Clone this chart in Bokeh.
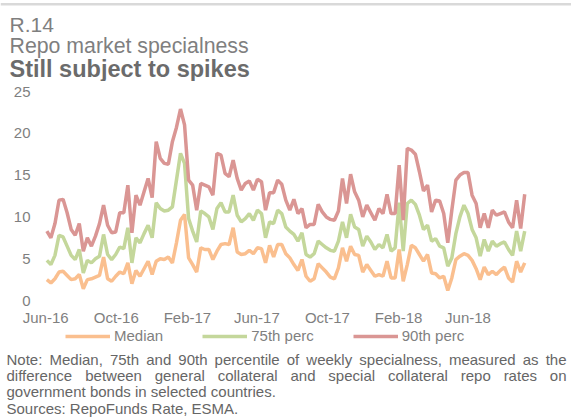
import pandas as pd
from bokeh.plotting import figure
from bokeh.layouts import column
from bokeh.models import (Range1d, FixedTicker, DatetimeTickFormatter, Label,
                          Legend, LegendItem, ColumnDataSource, BoxAnnotation)
from bokeh.embed import file_html
from bokeh.resources import INLINE

# ---------------- data (weekly) ----------------
first_week = "2016-06-03"
median = [
    2.5, 2.1, 2.6, 3.4, 3.5, 3.0, 2.5, 2.6, 3.1, 1.4,
    2.5, 2.6, 2.8, 3.0, 5.2, 2.6, 2.3, 2.9, 3.4, 3.2,
    4.5, 2.0, 3.6, 2.9, 3.8, 4.7, 3.1, 4.7, 5.0, 4.9,
    5.2, 4.5, 6.9, 9.6, 10.3, 5.1, 4.3, 3.4, 6.3, 6.1,
    6.1, 4.9, 5.9, 6.7, 6.8, 6.7, 8.7, 5.8, 5.5, 5.6,
    6.0, 5.6, 6.3, 6.2, 4.5, 6.6, 5.2, 6.7, 6.7, 5.6,
    5.1, 4.3, 3.6, 4.9, 2.9, 2.3, 2.6, 4.4, 3.9, 3.4,
    2.8, 2.6, 3.9, 6.3, 4.7, 6.5, 5.5, 5.4, 3.4, 4.3,
    3.6, 2.9, 3.1, 2.9, 4.7, 2.7, 2.7, 6.1, 2.3, 4.3,
    6.6, 6.3, 5.5, 4.7, 5.5, 3.3, 3.2, 2.7, 2.9, 1.2,
    2.7, 4.9, 5.3, 5.6, 5.4, 4.8, 3.8, 2.5, 4.0, 3.1,
    3.5, 3.1, 3.6, 4.0, 2.7, 2.2, 4.7, 3.4, 4.5]
p75 = [
    4.8, 4.3, 5.4, 7.8, 7.6, 6.5, 5.4, 4.9, 6.1, 3.3,
    4.8, 4.5, 5.0, 5.3, 7.9, 5.5, 4.9, 5.5, 6.4, 6.2,
    8.7, 4.5, 7.5, 6.9, 8.0, 9.0, 7.5, 11.7, 11.0, 10.7,
    10.8, 11.2, 14.4, 17.6, 16.4, 9.8, 8.3, 7.0, 10.7, 10.4,
    10.0, 8.5, 11.0, 11.7, 10.6, 10.6, 12.6, 10.2, 9.4, 9.8,
    10.4, 9.6, 10.8, 10.4, 7.5, 9.4, 9.2, 10.8, 10.4, 8.8,
    8.3, 7.9, 7.1, 8.1, 5.5, 5.2, 5.6, 7.1, 6.7, 6.3,
    6.0, 5.9, 7.1, 9.4, 7.5, 10.3, 8.8, 8.5, 6.5, 7.7,
    7.0, 6.1, 6.7, 6.3, 7.9, 5.9, 6.3, 11.7, 5.9, 11.6,
    12.0, 11.5, 10.2, 8.5, 9.0, 7.1, 7.4, 6.5, 6.3, 4.1,
    5.1, 8.0, 10.0, 11.4, 10.4, 8.5, 7.5, 5.3, 7.3, 5.9,
    7.1, 6.5, 6.8, 7.0, 6.1, 5.4, 8.3, 5.9, 8.3]
p90 = [
    8.3, 7.5, 9.2, 12.0, 12.1, 10.5, 8.5, 7.8, 9.2, 5.9,
    7.5, 6.5, 7.7, 9.2, 11.4, 9.0, 8.1, 8.2, 10.5, 10.5,
    13.8, 8.1, 12.6, 11.4, 13.0, 14.6, 12.3, 19.0, 17.0, 16.4,
    16.3, 19.0, 20.7, 22.9, 21.0, 14.4, 13.8, 10.8, 14.0, 13.8,
    13.6, 12.6, 17.6, 17.4, 15.2, 14.8, 16.8, 14.6, 13.2, 14.0,
    14.3, 13.2, 14.5, 14.2, 10.8, 12.9, 12.9, 14.4, 13.9, 12.0,
    10.8, 12.1, 10.4, 11.0, 8.7, 9.1, 9.1, 11.5, 10.6, 10.0,
    9.7, 9.6, 10.7, 14.6, 11.6, 15.1, 13.0, 12.0, 10.0, 11.4,
    10.5, 9.6, 11.0, 10.4, 12.7, 10.4, 10.4, 16.2, 9.6, 18.2,
    18.0, 17.5, 15.4, 13.1, 13.8, 10.6, 12.0, 11.9, 10.4, 6.9,
    10.8, 14.4, 15.0, 15.3, 15.3, 12.6, 11.6, 8.7, 10.4, 8.7,
    10.8, 10.2, 10.4, 10.6, 9.4, 8.7, 12.0, 8.6, 12.7]
series_names = ["Median", "75th perc", "90th perc"]
tick_dates = ["2016-06-01", "2016-10-01", "2017-02-01", "2017-06-01",
              "2017-10-01", "2018-02-01", "2018-06-01"]
y_ticks = [0, 5, 10, 15, 20, 25]

title_lines = ["R.14", "Repo market specialness", "Still subject to spikes"]
note_lines = [
    "Note: Median, 75th and 90th percentile of weekly specialness, measured as the",
    "difference between general collateral and special collateral repo rates on",
    "government bonds in selected countries.",
    "Sources: RepoFunds Rate, ESMA.",
]

# ---------------- styles / layout ----------------
FONT = "Liberation Sans"
COLORS = ["#FABF8F", "#C4D79B", "#DA9694"]
LW = 3.5
TXT = "#7f7f7f"
NOTE = "#666666"
W = 571
H0, H1, H2 = 81, 247, 89              # header strip / chart / legend+notes strip
FL, FR, FT, FB = 40, 530, 10, 220     # frame edges of the chart (its own canvas px)

dates = pd.date_range(first_week, periods=len(median), freq="7D")
src = ColumnDataSource(dict(d=dates, med=median, p75=p75, p90=p90))
cols = ["med", "p75", "p90"]


def strip(height):
    f = figure(width=W, height=height, output_backend="svg", toolbar_location=None,
               x_range=Range1d(0, 1), y_range=Range1d(0, 1),
               x_axis_location=None, y_axis_location=None,
               min_border_left=0, min_border_right=0, min_border_top=0,
               min_border_bottom=0)
    f.frame_align = False
    f.outline_line_color = None
    f.xgrid.visible = False
    f.ygrid.visible = False
    f.background_fill_color = "white"
    f.border_fill_color = "white"
    return f


def lab(fig, h, x, y, text, size, color, style="normal"):
    # x, y: px in a full-frame strip (y from its top, text baseline)
    fig.add_layout(Label(x=x, y=h - y, x_units="screen", y_units="screen",
                         text=text, text_font=FONT, text_font_size=size,
                         text_font_style=style, text_color=color,
                         text_baseline="alphabetic"))


# ---------------- header ----------------
hd = strip(H0)
hd.add_layout(BoxAnnotation(left=0, right=W, bottom=H0 - 5, top=H0 - 2.5,
                            left_units="screen", right_units="screen",
                            bottom_units="screen", top_units="screen",
                            fill_color="#d9d9d9", fill_alpha=1, line_color=None))
lab(hd, H0, 9, 24, title_lines[0], "21px", TXT)
lab(hd, H0, 9, 45, title_lines[1], "21.3px", TXT)
lab(hd, H0, 9, 68, title_lines[2], "23.5px", "#6b6b6b", "bold")

# ---------------- chart ----------------
p = figure(width=W, height=H1, output_backend="svg", toolbar_location=None,
           x_axis_type="datetime",
           x_range=Range1d(pd.Timestamp("2016-05-23"), pd.Timestamp("2018-09-17")),
           y_range=Range1d(0, 25),
           min_border_left=FL, min_border_right=W - FR,
           min_border_top=FT, min_border_bottom=H1 - FB)
p.frame_align = False
p.outline_line_color = None
p.xgrid.visible = False
p.ygrid.visible = False
p.background_fill_color = "white"
p.border_fill_color = "white"

for col, c in zip(cols, COLORS):
    p.line("d", col, source=src, color=c, line_width=LW)

tick_ms = [pd.Timestamp(t).value // 10**6 for t in tick_dates]
p.xaxis.ticker = FixedTicker(ticks=tick_ms)
p.xaxis.formatter = DatetimeTickFormatter(days="%b-%y", months="%b-%y", years="%b-%y")
p.yaxis.ticker = FixedTicker(ticks=y_ticks)
for ax in (p.xaxis, p.yaxis):
    ax.axis_line_color = None
    ax.major_tick_line_color = None
    ax.minor_tick_line_color = None
    ax.major_tick_out = 0
    ax.major_tick_in = 0
    ax.minor_tick_out = 0
    ax.major_label_text_font = FONT
    ax.major_label_text_font_size = "15px"
    ax.major_label_text_color = TXT
p.xaxis.major_label_standoff = 8
p.yaxis.major_label_standoff = 10

# ---------------- legend + notes strip ----------------
q = strip(H2)
# legend renderers: same series, lying outside this strip's ranges (only their keys show)
leg_renderers = [q.line("d", col, source=src, color=c, line_width=LW)
                 for col, c in zip(cols, COLORS)]
legend = Legend(items=[LegendItem(label=n, renderers=[r])
                       for n, r in zip(series_names, leg_renderers)],
                orientation="horizontal", location=(65, H2 - 16),
                padding=0, margin=0, spacing=39, glyph_width=45, glyph_height=16,
                label_height=16, label_standoff=4, label_text_font=FONT,
                label_text_font_size="15px", label_text_color=TXT,
                border_line_color=None, background_fill_alpha=0)
q.add_layout(legend)

# simple Arial/Liberation Sans advance widths (per 1000 em) for justification
AW = dict(zip("abcdefghijklmnopqrstuvwxyz",
              [556, 556, 500, 556, 556, 278, 556, 556, 222, 222, 500, 222, 833,
               556, 556, 556, 556, 333, 500, 278, 556, 500, 722, 500, 500, 500]))
AW.update({"N": 722, "M": 833, "S": 667, "R": 722, "E": 667, "A": 667, ":": 278,
           ",": 278, ".": 278, " ": 278})


def tw(s, px):
    return sum(AW.get(c, 556) for c in s) * px / 1000.0


NOTE_PX = 15
x0, x1 = 6, 566
top_q = H0 + H1
baselines = [359 - top_q, 375 - top_q, 391 - top_q, 408 - top_q]
for i, line in enumerate(note_lines):
    if i < 2:   # justified lines
        words = line.split(" ")
        gap = (x1 - x0 - sum(tw(w, NOTE_PX) for w in words)) / (len(words) - 1)
        x = x0
        for w in words:
            lab(q, H2, x, baselines[i], w, f"{NOTE_PX}px", NOTE)
            x += tw(w, NOTE_PX) + gap
    else:
        lab(q, H2, x0, baselines[i], line, f"{NOTE_PX}px", NOTE)

layout = column(hd, p, q, spacing=0)
open("out.html", "w").write(file_html(layout, INLINE))
